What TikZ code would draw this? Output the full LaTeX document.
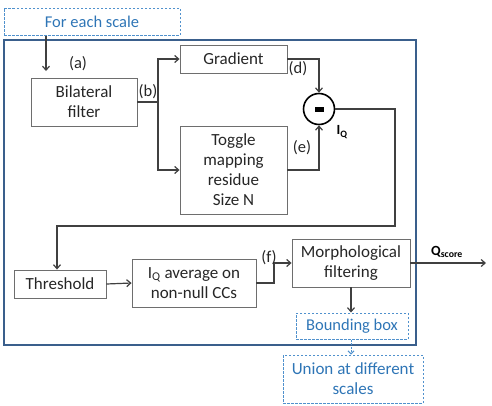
\documentclass[tikz,border=0pt]{standalone}
\usepackage{fontspec}
\setmainfont{Carlito}
\usetikzlibrary{arrows.meta}
\definecolor{lineg}{RGB}{64,64,64}
\definecolor{boxg}{RGB}{110,110,110}
\definecolor{frameblue}{RGB}{58,95,140}
\definecolor{txtblue}{RGB}{46,117,182}
\definecolor{dashblue}{RGB}{80,145,205}
\tikzset{
  procbox/.style={draw=boxg, line width=0.9pt, rectangle, align=center, inner sep=0pt, font=\fontsize{17}{20}\selectfont, text=black!85},
  bluebox/.style={draw=dashblue, dash pattern=on 2.5pt off 1.5pt, line width=1pt, rectangle, align=center, inner sep=0pt, font=\fontsize{16.5}{20}\selectfont, text=txtblue},
  conn/.style={draw=lineg, line width=1.2pt, -{Straight Barb[length=4pt,width=7pt]}},
  plainconn/.style={draw=lineg, line width=1.2pt},
  lbl/.style={font=\fontsize{16.5}{20}\selectfont, text=black!85, inner sep=0pt},
}
\begin{document}
\begin{tikzpicture}[x=1pt,y=-1pt]
\useasboundingbox (0,0) rectangle (492,405);
% outer frame
\draw[frameblue, line width=1.6pt] (4,40) rectangle (416,345);
% nodes
\node[bluebox, minimum width=176pt, minimum height=27pt] (foreach) at (92,21.5) {For each scale};
\node[procbox, minimum width=106pt, minimum height=48pt] (bilat) at (84,102) {Bilateral\\filter};
\node[procbox, minimum width=107pt, minimum height=28pt] (grad) at (233.5,59) {Gradient};
\node[procbox, minimum width=107pt, minimum height=88pt] (toggle) at (233.5,170) {Toggle\\mapping\\residue\\Size N};
\node[draw=black, line width=1.6pt, circle, minimum size=31pt, inner sep=0pt] (minus) at (319,109) {};
\fill[black] (314.5,107) rectangle (323.5,111.5);
\node[procbox, minimum width=92pt, minimum height=28pt] (thresh) at (60,284) {Threshold};
\node[procbox, minimum width=124pt, minimum height=48pt] (avg) at (194,283) {I\textsubscript{Q} average on\\non-null CCs};
\node[procbox, minimum width=118pt, minimum height=48pt] (morph) at (351,263) {Morphological\\filtering};
\node[bluebox, minimum width=112pt, minimum height=26pt] (bbox) at (352,326) {Bounding box};
\node[bluebox, minimum width=140pt, minimum height=48pt, font=\fontsize{17}{20}\selectfont] (union) at (353,379) {Union at different\\scales};
% coordinates
\coordinate (a) at (46,71);
\coordinate (split) at (158,102);
\coordinate (rt) at (395,226);
\coordinate (tin) at (57,226);
\coordinate (fj) at (274,283);
\coordinate (qend) at (486,263);
% connectors
\draw[conn] (foreach.south -| a) -- (a);
\draw[plainconn] (bilat.east) -- (split);
\draw[conn] (split) |- (grad.west);
\draw[conn] (split) |- (toggle.west);
\draw[conn] (grad.east) -| (minus.north);
\draw[conn] (toggle.east) -| (minus.south);
\draw[conn] (minus.east) -| (rt) -- (tin) -- (tin |- thresh.north);
\draw[conn] (thresh.east) -- (avg.west);
\draw[conn] (avg.east) -- (fj) |- (morph.west);
\draw[conn] (morph.east) -- (qend);
\draw[conn] (morph.south) -- (morph.south |- bbox.north);
\draw[draw=dashblue, line width=1pt, dash pattern=on 2pt off 1.5pt, -{Straight Barb[length=3pt,width=6pt]}] (bbox.south -| morph.south) -- (union.north -| morph.south);
% labels
\node[lbl] (la) at (78,64) {(a)};
\node[lbl] (lb) at (148,92) {(b)};
\node[lbl] (ld) at (298,69) {(d)};
\node[lbl] (le) at (302,148) {(e)};
\node[lbl] (lf) at (269,258) {(f)};
\node[inner sep=0pt, font=\fontsize{14}{16}\selectfont\bfseries] (iq) at (342,132) {I\textsubscript{Q}};
\node[inner sep=0pt, font=\fontsize{14}{16}\selectfont\bfseries] (qs) at (447,252) {Q\textsubscript{score}};
\end{tikzpicture}
\end{document}
